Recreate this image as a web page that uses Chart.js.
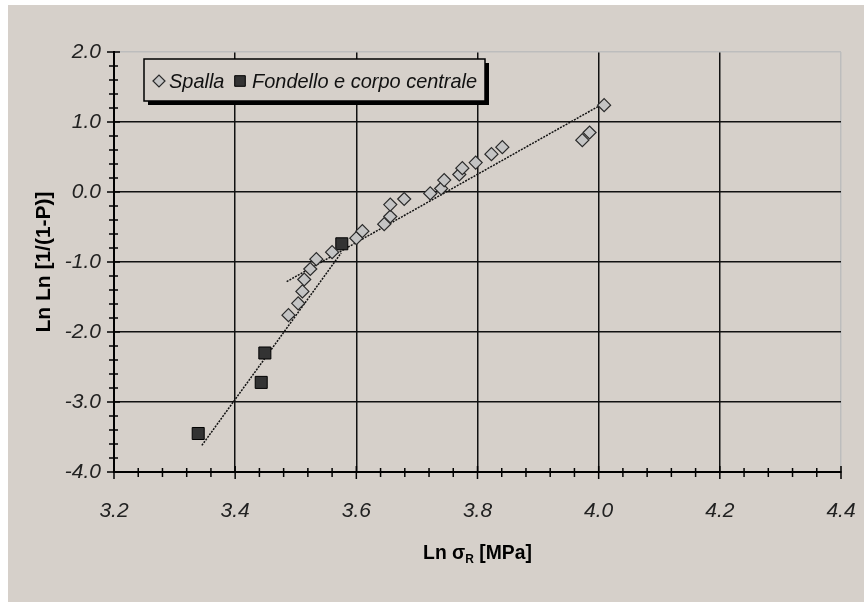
<!DOCTYPE html>
<html><head><meta charset="utf-8">
<script src="https://cdn.jsdelivr.net/npm/chart.js@4.4.1/dist/chart.umd.min.js"></script>
<style>html,body{margin:0;padding:0;background:#fff;}#wrap{width:864px;height:602px;position:relative}</style>
</head><body><div id="wrap"><canvas id="c" width="864" height="602"></canvas></div>
<script>
// ---- data ----
const seriesNames = ['Spalla', 'Fondello e corpo centrale'];
const spallaX = [3.488, 3.504, 3.511, 3.514, 3.524, 3.534, 3.560, 3.600, 3.610, 3.646, 3.656, 3.656,
                 3.679, 3.722, 3.740, 3.745, 3.770, 3.775, 3.797, 3.823, 3.841, 3.973, 3.985, 4.009];
const spallaY = [-1.76, -1.59, -1.42, -1.25, -1.10, -0.96, -0.86, -0.66, -0.56, -0.46, -0.35, -0.18,
                 -0.10, -0.02, 0.05, 0.17, 0.25, 0.34, 0.42, 0.54, 0.64, 0.74, 0.85, 1.24];
const fondelloX = [3.339, 3.443, 3.449, 3.576];
const fondelloY = [-3.45, -2.72, -2.30, -0.74];
const spallaFitX = [3.485, 4.005];
const spallaFitY = [-1.28, 1.25];
const fondelloFitX = [3.345, 3.575];
const fondelloFitY = [-3.62, -0.87];
const xTickLabels = ['3.2', '3.4', '3.6', '3.8', '4.0', '4.2', '4.4'];
const yTickLabels = ['-4.0', '-3.0', '-2.0', '-1.0', '0.0', '1.0', '2.0'];
const xTitleParts = ['Ln σ', 'R', ' [MPa]'];
const yTitle = 'Ln Ln [1/(1-P)]';

const FONT = "'Liberation Sans', Arial, sans-serif";
const BG = '#d6d0ca';
const pts = (xs, ys) => xs.map((x, i) => ({x, y: ys[i]}));

const bgPlugin = {
  id: 'bg',
  beforeDraw(chart) {
    const {ctx, width, height} = chart;
    ctx.save();
    ctx.fillStyle = '#ffffff';
    ctx.fillRect(0, 0, width, height);
    ctx.fillStyle = BG;
    ctx.fillRect(8, 5, width - 8, height - 5);
    ctx.restore();
  }
};

const ticksPlugin = {
  id: 'crossTicks',
  afterDatasetsDraw(chart) {
    const {ctx, scales: {x, y}, chartArea: a} = chart;
    ctx.save();
    ctx.strokeStyle = '#000';
    ctx.lineWidth = 1.5;
    const nx = Math.round((x.max - x.min) / 0.04);
    for (let i = 0; i <= nx; i++) {
      const px = x.getPixelForValue(x.min + i * 0.04);
      const major = i % 5 === 0;
      ctx.beginPath();
      ctx.moveTo(px, a.bottom - (major ? 6 : 4));
      ctx.lineTo(px, a.bottom + (major ? 7 : 5));
      ctx.stroke();
    }
    const ny = Math.round((y.max - y.min) / 0.2);
    for (let i = 0; i <= ny; i++) {
      const py = y.getPixelForValue(y.min + i * 0.2);
      const major = i % 5 === 0;
      ctx.beginPath();
      ctx.moveTo(a.left - (major ? 7 : 5), py);
      ctx.lineTo(a.left + (major ? 6 : 4), py);
      ctx.stroke();
    }
    ctx.restore();
  }
};

const legendPlugin = {
  id: 'boxLegend',
  afterDraw(chart) {
    const {ctx} = chart;
    const bx = 144, by = 59, bw = 341, bh = 42;
    ctx.save();
    ctx.fillStyle = '#000';
    ctx.fillRect(bx + 4, by + 4, bw, bh);
    ctx.fillStyle = BG;
    ctx.fillRect(bx, by, bw, bh);
    ctx.strokeStyle = '#000';
    ctx.lineWidth = 1.5;
    ctx.strokeRect(bx, by, bw, bh);
    const ds = chart.data.datasets;
    const cy = by + 22;
    const items = [
      {ds: ds[0], mx: 159, tx: 169, r: 6},
      {ds: ds[1], mx: 240, tx: 252, r: 7.5}
    ];
    items.forEach(it => {
      ctx.fillStyle = it.ds.backgroundColor;
      ctx.strokeStyle = it.ds.borderColor;
      ctx.lineWidth = it.ds.borderWidth;
      Chart.helpers.drawPoint(ctx, {pointStyle: it.ds.pointStyle, radius: it.r, borderWidth: it.ds.borderWidth}, it.mx, cy);
      ctx.save();
      ctx.translate(it.tx, cy + 7);
      ctx.scale(0.95, 1);
      ctx.fillStyle = '#111';
      ctx.font = 'italic 21px ' + FONT;
      ctx.textBaseline = 'alphabetic';
      ctx.fillText(it.ds.label, 0, 0);
      ctx.restore();
    });
    ctx.restore();
  }
};

const xTitlePlugin = {
  id: 'xTitle',
  afterDraw(chart) {
    const {ctx, chartArea: a} = chart;
    ctx.save();
    ctx.fillStyle = '#000';
    ctx.textBaseline = 'alphabetic';
    const big = 'bold 21px ' + FONT, small = 'bold 13px ' + FONT;
    ctx.font = big; const w0 = ctx.measureText(xTitleParts[0]).width;
    ctx.font = small; const w1 = ctx.measureText(xTitleParts[1]).width;
    ctx.font = big; const w2 = ctx.measureText(xTitleParts[2]).width;
    const sx = 0.92;
    const total = (w0 + w1 + w2) * sx;
    const cx = (a.left + a.right) / 2;
    ctx.translate(cx - total / 2, 559);
    ctx.scale(sx, 1);
    ctx.font = big; ctx.fillText(xTitleParts[0], 0, 0);
    ctx.font = small; ctx.fillText(xTitleParts[1], w0, 4);
    ctx.font = big; ctx.fillText(xTitleParts[2], w0 + w1, 0);
    ctx.restore();
  }
};

new Chart(document.getElementById('c'), {
  type: 'scatter',
  data: {
    datasets: [
      {label: seriesNames[0], data: pts(spallaX, spallaY), pointStyle: 'rectRot', pointRadius: 6.5,
       backgroundColor: '#c4c4c4', borderColor: '#2a2a2a', borderWidth: 1.2, showLine: false},
      {label: seriesNames[1], data: pts(fondelloX, fondelloY), pointStyle: 'rect', pointRadius: 8.5,
       backgroundColor: '#333333', borderColor: '#000000', borderWidth: 1, showLine: false},
      {label: 'fit1', data: pts(spallaFitX, spallaFitY), showLine: true, pointRadius: 0,
       borderColor: '#111', borderWidth: 1.5, borderDash: [2, 1.2], fill: false},
      {label: 'fit2', data: pts(fondelloFitX, fondelloFitY), showLine: true, pointRadius: 0,
       borderColor: '#111', borderWidth: 1.5, borderDash: [2, 1.2], fill: false}
    ]
  },
  options: {
    responsive: false,
    animation: false,
    devicePixelRatio: 1,
    layout: {padding: {top: 52, right: 23, bottom: 0, left: 0}},
    plugins: {legend: {display: false}, tooltip: {enabled: false}},
    scales: {
      x: {
        type: 'linear', min: 3.2, max: 4.4,
        afterFit: s => { s.height = 130; s.paddingLeft = 0; s.paddingRight = 0; },
        border: {display: true, color: '#000', width: 2},
        grid: {
          drawTicks: false,
          lineWidth: 1.5,
          color: c => (c.tick && Math.abs(c.tick.value - 4.4) < 1e-6) ? '#bdbdbd' : '#111'
        },
        ticks: {
          stepSize: 0.2, autoSkip: false, maxRotation: 0, padding: 27,
          color: '#222', font: {family: FONT, size: 21, style: 'italic'},
          callback: (v, i) => xTickLabels[i]
        },
        title: {display: false, text: xTitleParts.join('')}
      },
      y: {
        type: 'linear', min: -4, max: 2,
        afterFit: s => { s.width = 114; s.paddingTop = 0; s.paddingBottom = 0; },
        border: {display: true, color: '#000', width: 2},
        grid: {
          drawTicks: false,
          lineWidth: 1.5,
          color: c => (c.tick && Math.abs(c.tick.value - 2) < 1e-6) ? '#bdbdbd' : '#111'
        },
        ticks: {
          stepSize: 1, autoSkip: false, padding: 13,
          color: '#222', font: {family: FONT, size: 21, style: 'italic'},
          callback: (v, i) => yTickLabels[i]
        },
        title: {display: true, text: yTitle, color: '#000',
                font: {family: FONT, size: 21, weight: 'bold'}, padding: {top: 32, bottom: 0}}
      }
    }
  },
  plugins: [bgPlugin, ticksPlugin, legendPlugin, xTitlePlugin]
});
</script>
</body></html>
